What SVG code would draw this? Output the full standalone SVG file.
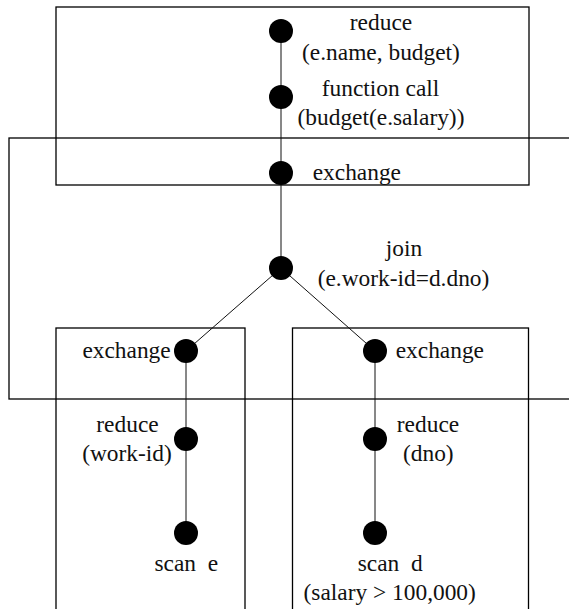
<svg xmlns="http://www.w3.org/2000/svg" width="569" height="609" viewBox="0 0 569 609">
<style>
.box{fill:none;stroke:#000;stroke-width:1.3}
.edge{stroke:#111;stroke-width:1;fill:none}
.node{fill:#000}
.t text{font-size:23.4px;fill:#111;white-space:pre}
.m{text-anchor:middle}
.e{text-anchor:end}
</style>
<rect width="569" height="609" fill="#fff"/>
<g id="boxes">
<rect class="box" x="56" y="7" width="473" height="178"/>
<rect class="box" x="9" y="138" width="600" height="261"/>
<rect class="box" x="56" y="328" width="189" height="300"/>
<rect class="box" x="292.5" y="328" width="236" height="300"/>
</g>
<g id="connectors">
<line class="edge" x1="281" y1="31" x2="281" y2="268"/>
<line class="edge" x1="281" y1="268" x2="186" y2="351"/>
<line class="edge" x1="281" y1="268" x2="375" y2="351"/>
<line class="edge" x1="186" y1="351" x2="186" y2="533"/>
<line class="edge" x1="375" y1="351" x2="375" y2="533"/>
</g>
<g class="t" font-family="'Liberation Serif', 'Times New Roman', 'DejaVu Serif', serif">
<g id="reduce-top"><circle class="node" cx="281" cy="31" r="12"/><text class="m" x="381" y="30">reduce</text><text class="m" x="381" y="60">(e.name, budget)</text></g>
<g id="function-call"><circle class="node" cx="281" cy="97" r="12"/><text class="m" x="380.5" y="96">function call</text><text class="m" x="381" y="124.5">(budget(e.salary))</text></g>
<g id="exchange-top"><circle class="node" cx="281" cy="173" r="12"/><text x="312.7" y="180">exchange</text></g>
<g id="join"><circle class="node" cx="281" cy="268" r="12"/><text class="m" x="404" y="256">join</text><text class="m" x="403.5" y="286">(e.work-id=d.dno)</text></g>
<g id="exchange-left"><circle class="node" cx="186" cy="351" r="12"/><text class="e" x="170.7" y="358">exchange</text></g>
<g id="exchange-right"><circle class="node" cx="375" cy="351" r="12"/><text x="395.7" y="358">exchange</text></g>
<g id="reduce-left"><circle class="node" cx="186" cy="439" r="12"/><text class="m" x="127.5" y="431.5">reduce</text><text class="m" x="127" y="461">(work-id)</text></g>
<g id="reduce-right"><circle class="node" cx="375" cy="439" r="12"/><text class="m" x="428" y="431.5">reduce</text><text class="m" x="428.3" y="461">(dno)</text></g>
<g id="scan-e"><circle class="node" cx="186" cy="533" r="12"/><text class="m" x="186.3" y="570.7">scan  e</text></g>
<g id="scan-d"><circle class="node" cx="375" cy="533" r="12"/><text class="m" x="390.2" y="570.7">scan  d</text><text class="m" x="389.7" y="600">(salary &gt; 100,000)</text></g>
</g>
</svg>
